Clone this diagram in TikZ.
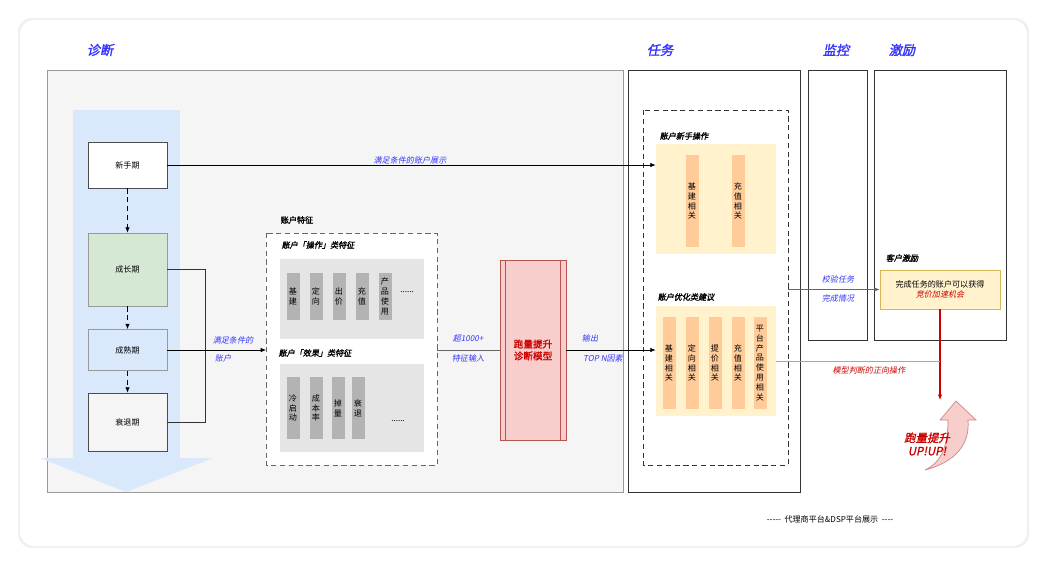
\documentclass[tikz,border=0pt]{standalone}
\usepackage{fontspec}
\setmainfont{Noto Sans CJK SC}
\newfontfamily\cjkit[FakeSlant=0.2]{Noto Sans CJK SC}
\newfontfamily\cjkbf[FakeBold=1.5]{Noto Sans CJK SC}
\newfontfamily\cjkbfit[FakeBold=1.5,FakeSlant=0.2]{Noto Sans CJK SC}
\usetikzlibrary{arrows.meta}
\definecolor{tblue}{HTML}{3333FF}
\definecolor{tred}{HTML}{CC0000}
\definecolor{bandblue}{HTML}{DAE8FC}
\definecolor{growgreen}{HTML}{D5E8D4}
\definecolor{greybar}{HTML}{B3B3B3}
\definecolor{orangebar}{HTML}{FFCC99}
\definecolor{lightyellow}{HTML}{FFF2CC}
\definecolor{yellowline}{HTML}{D6B656}
\definecolor{modelred}{HTML}{B85450}
\definecolor{modelfill}{HTML}{F8CECC}
\tikzset{
  fs/.style={font=\fontsize{4.6}{5.6}\selectfont},
  bluelab/.style={text=tblue,font=\fontsize{4.6}{5.6}\selectfont\cjkit},
  head/.style={text=tblue,font=\fontsize{7.5}{9}\selectfont\cjkbfit},
  sublab/.style={font=\fontsize{4.6}{5.6}\selectfont\cjkbfit},
  stage/.style={draw=black!70,line width=0.4pt,fs,minimum width=79*0.02cm,inner sep=0pt},
  gbar/.style={fill=greybar,fs,align=center,inner sep=0pt,minimum width=13*0.02cm},
  obar/.style={fill=orangebar,fs,align=center,inner sep=0pt,minimum width=13*0.02cm},
  arr/.style={-{Latex[length=3pt,width=2.5pt]},line width=0.4pt},
}
\begin{document}
\begin{tikzpicture}[x=0.02cm,y=-0.02cm]
    % Rahmen
    \fill[white] (0,0) rectangle (1047,566);
    \fill[black!6,rounded corners=8] (18,18) rectangle (1029,548);
    \fill[white,rounded corners=8] (20,20) rectangle (1027,546);

    % Spalten
    \draw[black!40,fill=black!4] (47,70) rectangle (623,492);
    \draw[black!80] (628,70) rectangle (800,492);
    \draw[black!80] (808,70) rectangle (867,340);
    \draw[black!80] (874,70) rectangle (1006,340);
    \draw[black!80,densely dashed] (643,110) rectangle (788,465);
    \node[head] (tdiag) at (100,50) {诊断};
    \node[head] (ttask) at (660,50) {任务};
    \node[head] (tmon) at (836,50) {监控};
    \node[head] (tinc) at (902,50) {激励};

    % Lebenszyklus
    \fill[bandblue] (73,110) rectangle (180,458);
    \fill[bandblue] (40,458) -- (213,458) -- (126,492) -- cycle;
    \node[stage,fill=white,minimum height=46*0.02cm] (new) at (127.5,165) {新手期};
    \node[stage,fill=growgreen,draw=black!40,minimum height=73*0.02cm] (grow) at (127.5,269.5) {成长期};
    \node[stage,fill=bandblue,draw=black!40,minimum height=41*0.02cm] (mature) at (127.5,350) {成熟期};
    \node[stage,fill=black!4,minimum height=58*0.02cm] (decline) at (127.5,422) {衰退期};
    \draw[arr,densely dashed] (new) -- (grow);
    \draw[arr,densely dashed] (grow) -- (mature);
    \draw[arr,densely dashed] (mature) -- (decline);

    % Kontofeatures
    \node[font=\fontsize{4.6}{5.6}\selectfont\cjkbf] (ftitle) at (297,220) {账户特征};
    \draw[black!60,densely dashed,fill=white] (266,233) rectangle (437,465);
    \coordinate (fin) at (266,350);
    \node[sublab] (op) at (318,245) {账户「操作」类特征};
    \fill[black!10] (280,259) rectangle (424,339);
    \foreach \x/\t in {293/基\\建,316/定\\向,339/出\\价,362/充\\值}
        \node[gbar,minimum height=47*0.02cm] at (\x,296.5) {\t};
    \node[gbar,minimum height=47*0.02cm] at (385,296.5) {产\\品\\使\\用};
    \node[fs] at (407,292) {......};
    \node[sublab] (eff) at (315,353) {账户「效果」类特征};
    \fill[black!10] (280,364) rectangle (424,452);
    \foreach \x/\t in {293/冷\\启\\动,316/成\\本\\率,338/掉\\量,358/衰\\退}
        \node[gbar,minimum height=62*0.02cm] at (\x,408) {\t};
    \node[fs] at (398,421) {......};

    \draw[black!80] (grow.east) -- (205,269.5) |- (decline.east);
    \draw[arr] (mature.east) -- (fin);
    \node[bluelab] (l1) at (233,340) {满足条件的};
    \node[bluelab] (l2) at (223,358) {账户};

    % Modell
    \node[draw=modelred,fill=modelfill,minimum width=66*0.02cm,minimum height=180*0.02cm,inner sep=0pt] (model) at (533,350) {};
    \draw[modelred] (505,260) -- (505,440) (560,260) -- (560,440);
    \node[text=tred,align=center,font=\fontsize{5.5}{6.8}\selectfont\cjkbf] at (model) {跑量提升\\诊断模型};
    \draw[black!60] (437,350) -- (model.west);
    \node[bluelab] at (468,338) {超1000+};
    \node[bluelab] at (468,358) {特征输入};

    % Aufgaben
    \node[sublab] (newop) at (684,136) {账户新手操作};
    \node[fill=lightyellow,minimum width=120*0.02cm,minimum height=110*0.02cm,inner sep=0pt] (newbox) at (716,199) {};
    \foreach \x/\t in {692/基\\建\\相\\关,738/充\\值\\相\\关}
        \node[obar,minimum height=92*0.02cm] at (\x,201) {\t};
    \node[sublab] (optip) at (686,297) {账户优化类建议};
    \node[fill=lightyellow,minimum width=120*0.02cm,minimum height=110*0.02cm,inner sep=0pt] (optbox) at (716,361) {};
    \foreach \x/\t in {669/基\\建\\相\\关,692/定\\向\\相\\关,715/提\\价\\相\\关,738/充\\值\\相\\关}
        \node[obar,minimum height=92*0.02cm] at (\x,363) {\t};
    \node[obar,minimum height=92*0.02cm] at (760,363) {平\\台\\产\\品\\使\\用\\相\\关};

    \draw[arr] (new.east) -- (newbox.west |- new.east);
    \node[bluelab] at (410,160) {满足条件的账户展示};
    \draw[arr] (model.east) -- (optbox.west |- model.east);
    \node[bluelab] at (590,338) {输出};
    \node[bluelab] at (603,358) {TOP N因素};

    % Anreiz
    \node[sublab] (cust) at (902,258) {客户激励};
    \node[draw=yellowline,fill=lightyellow,minimum width=120*0.02cm,minimum height=39*0.02cm,inner sep=0pt,align=center,fs] (reward) at (940,289.5) {完成任务的账户可以获得\\\textcolor{tred}{\cjkit 竞价加速机会}};
    \draw[arr,black!60] (788,289.5) -- (reward.west);
    \node[bluelab] at (838,279) {校验任务};
    \node[bluelab] at (838,298) {完成情况};
    \coordinate (up) at (940,400);
    \draw[arr,tred,line width=0.6pt] (reward.south) -- (up);
    \draw[red!50] (optbox.east |- 0,361) -- (940,361);
    \node[bluelab,text=tred] at (869,370) {模型判断的正向操作};

    % Pfeil
    \draw[modelred!70,fill=modelfill]
        (925,470) .. controls (955,462) and (970,445) .. (968,420)
        -- (976,420) -- (956,401) -- (940,420) -- (948,420)
        .. controls (948,445) and (942,462) .. cycle;
    \node[text=tred,align=center,font=\fontsize{6.5}{7.5}\selectfont\cjkbfit] at (927,444) {跑量提升\\UP!UP!};

    \node[fs] (foot) at (830,519) {{-}{-}{-}{-}{-}\ \ 代理商平台\&DSP平台展示\ \ {-}{-}{-}{-}};
\end{tikzpicture}
\end{document}
